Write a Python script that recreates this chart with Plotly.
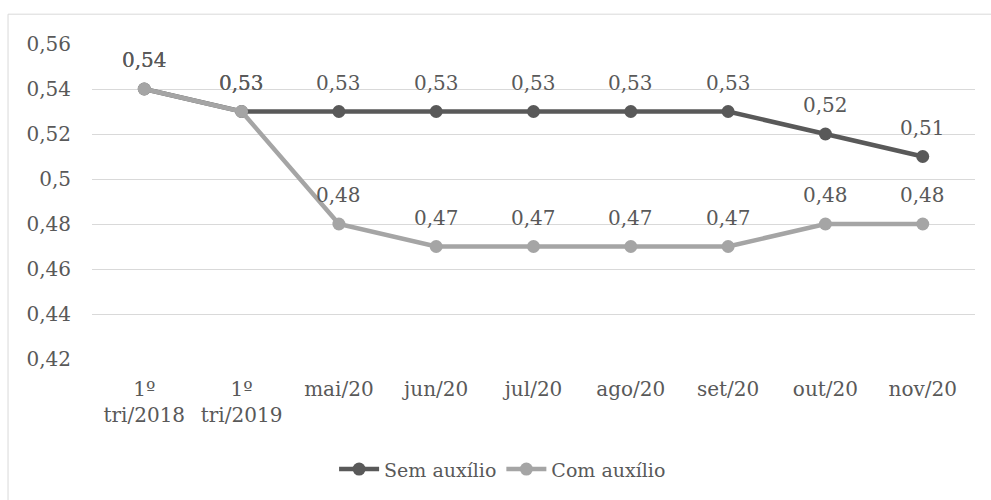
import plotly.graph_objects as go

# Category labels and series values
categories = ["1º<br>tri/2018", "1º<br>tri/2019", "mai/20", "jun/20", "jul/20",
              "ago/20", "set/20", "out/20", "nov/20"]
sem_auxilio = [0.54, 0.53, 0.53, 0.53, 0.53, 0.53, 0.53, 0.52, 0.51]
com_auxilio = [0.54, 0.53, 0.48, 0.47, 0.47, 0.47, 0.47, 0.48, 0.48]
y_ticks = [0.42, 0.44, 0.46, 0.48, 0.50, 0.52, 0.54, 0.56]

DARK = "#595959"
LIGHT = "#A5A5A5"
TEXT = "#595959"
FONT = "DejaVu Serif"
FS = 20


def br(v):
    s = f"{v:.2f}".rstrip("0").rstrip(".")
    return s.replace(".", ",")


fig = go.Figure()
for name, vals, color in [("Sem auxílio", sem_auxilio, DARK),
                          ("Com auxílio", com_auxilio, LIGHT)]:
    fig.add_trace(go.Scatter(
        x=categories, y=vals, name=name, mode="lines+markers",
        line=dict(color=color, width=4.5),
        marker=dict(color=color, size=13),
    ))

# Value labels above each point
annotations = []
for vals in (sem_auxilio, com_auxilio):
    for c, v in zip(categories, vals):
        annotations.append(dict(
            x=c, y=v, xref="x", yref="y", text=br(v), showarrow=False,
            yshift=29, font=dict(family=FONT, size=FS, color=TEXT),
        ))

fig.update_layout(
    width=991, height=500,
    margin=dict(l=92, r=16, t=44, b=139),
    paper_bgcolor="white", plot_bgcolor="white",
    font=dict(family=FONT, size=FS, color=TEXT),
    showlegend=True,
    legend=dict(orientation="h", x=0.465, xanchor="center", y=-0.35, yanchor="middle",
                font=dict(family=FONT, size=19, color=TEXT), itemwidth=40,
                tracegroupgap=0, bgcolor="rgba(0,0,0,0)"),
    xaxis=dict(showgrid=False, showline=False, zeroline=False, ticks="",
               ticklabelstandoff=16,
               tickfont=dict(family=FONT, size=FS, color=TEXT)),
    yaxis=dict(range=[0.42, 0.56], tickvals=y_ticks, ticktext=[br(t) for t in y_ticks],
               showgrid=True, gridcolor="#D9D9D9", gridwidth=1, showline=False,
               zeroline=False, ticks="", ticklabelstandoff=20,
               tickfont=dict(family=FONT, size=FS, color=TEXT)),
    annotations=annotations,
    shapes=[dict(type="rect", xref="paper", yref="paper",
                 x0=-0.0951, x1=2, y0=-2, y1=1.0946,
                 line=dict(color="#D9D9D9", width=1), layer="below")],
)

fig.write_html("out.html")
